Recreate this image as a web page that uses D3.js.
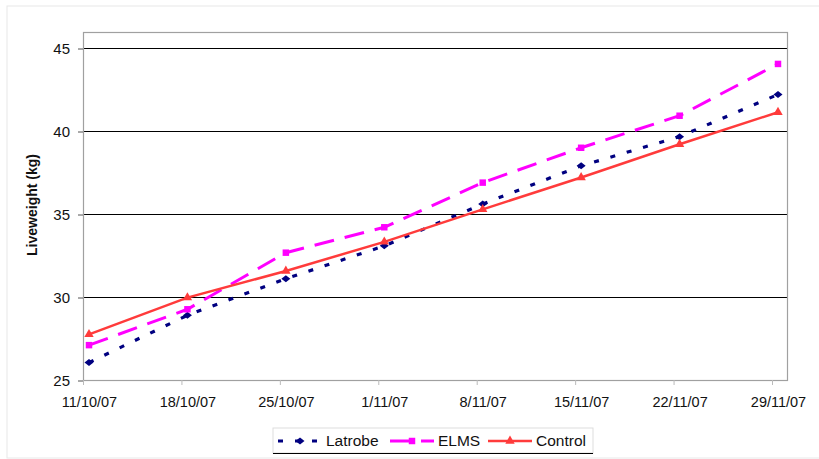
<!DOCTYPE html>
<html>
<head>
<meta charset="utf-8">
<script src="https://cdn.jsdelivr.net/npm/d3@7"></script>
<style>
  body { margin: 0; background: #fff; }
  text { font-family: "Liberation Sans", Arial, sans-serif; fill: #111; }
</style>
</head>
<body>
<div id="chart"></div>
<script>
// data
var dates = ["11/10/07", "18/10/07", "25/10/07", "1/11/07", "8/11/07", "15/11/07", "22/11/07", "29/11/07"];
var latrobe = [26.05, 28.9, 31.1, 33.08, 35.6, 37.9, 39.66, 42.2];
var elms = [27.1, 29.26, 32.67, 34.2, 36.89, 38.99, 40.92, 44.04];
var control = [27.75, 29.96, 31.57, 33.32, 35.28, 37.2, 39.2, 41.13];
var yTicks = [25, 30, 35, 40, 45];

var series = [
  {name: "Latrobe", values: latrobe, color: "#000080", dash: "5,12", width: 3.2, marker: "diamond"},
  {name: "ELMS", values: elms, color: "#ff00ff", dash: "20,11", width: 3, marker: "square"},
  {name: "Control", values: control, color: "#ff3b3b", dash: null, width: 2.5, marker: "triangle"}
];

var W = 819, H = 459;
var plot = {left: 83, right: 787, top: 32, bottom: 380};

var svg = d3.select("#chart").append("svg")
    .attr("width", W)
    .attr("height", H);

// faint outer frame
svg.append("rect")
    .attr("x", 7).attr("y", 6)
    .attr("width", W - 6).attr("height", H - 7)
    .attr("fill", "none")
    .attr("stroke", "#e8e8e8");

// scales
var x = d3.scalePoint().domain(dates).range([89, 778]);
var y = d3.scaleLinear().domain([25, 45]).range([380, 48]);
var tickShift = -6; // tick marks sit a little left of the points

// gridlines
svg.append("g")
  .selectAll("line")
  .data(yTicks.slice(1))
  .join("line")
    .attr("x1", plot.left).attr("x2", plot.right)
    .attr("y1", function(d) { return Math.round(y(d)) + 0.5; })
    .attr("y2", function(d) { return Math.round(y(d)) + 0.5; })
    .attr("stroke", "#000")
    .attr("stroke-width", 1.2);

// plot frame
svg.append("rect")
    .attr("x", plot.left + 0.5).attr("y", plot.top + 0.5)
    .attr("width", plot.right - plot.left)
    .attr("height", plot.bottom - plot.top)
    .attr("fill", "none")
    .attr("stroke", "#a0a0a0")
    .attr("stroke-width", 1.2);

// y axis
var yAxis = svg.append("g")
    .attr("transform", "translate(" + plot.left + ",0.5)")
    .call(d3.axisLeft(y).tickValues(yTicks).tickSize(5).tickPadding(8));
yAxis.select(".domain").remove();
yAxis.selectAll(".tick line").attr("stroke", "#555");
yAxis.selectAll("text").style("font-size", "15px").attr("fill", "#111");

// x axis: labels at points, ticks shifted
var xAxis = svg.append("g")
    .attr("transform", "translate(0," + plot.bottom + ")")
    .call(d3.axisBottom(x).tickSize(0).tickPadding(17));
xAxis.select(".domain").remove();
xAxis.selectAll("text").style("font-size", "14.5px").attr("fill", "#111");
xAxis.selectAll(".tick").append("line")
    .attr("x1", tickShift).attr("x2", tickShift)
    .attr("y1", 0).attr("y2", 5)
    .attr("stroke", "#bbb");

// y title
svg.append("text")
    .attr("transform", "translate(37,205) rotate(-90)")
    .attr("text-anchor", "middle")
    .style("font-size", "14px")
    .style("font-weight", "bold")
    .text("Liveweight (kg)");

// lines
var line = d3.line()
    .x(function(d, i) { return x(dates[i]); })
    .y(function(d) { return y(d); });

function drawMarker(g, type, color) {
  if (type === "diamond") {
    g.append("path").attr("d", "M-4.5,0L0,-3.5L4.5,0L0,3.5Z").attr("fill", color);
  } else if (type === "square") {
    g.append("path").attr("d", d3.symbol().type(d3.symbolSquare).size(42)()).attr("fill", color);
  } else {
    g.append("path").attr("d", d3.symbol().type(d3.symbolTriangle).size(38)()).attr("fill", color);
  }
}

series.forEach(function(s) {
  svg.append("path")
      .attr("d", line(s.values))
      .attr("fill", "none")
      .attr("stroke", s.color)
      .attr("stroke-width", s.width)
      .attr("stroke-dasharray", s.dash);
  svg.append("g")
    .selectAll("g")
    .data(s.values)
    .join("g")
      .attr("transform", function(d, i) { return "translate(" + x(dates[i]) + "," + y(d) + ")"; })
      .each(function() { drawMarker(d3.select(this), s.marker, s.color); });
});

// legend
var legend = svg.append("g").attr("transform", "translate(273,428)");
legend.append("rect")
    .attr("width", 320).attr("height", 25)
    .attr("fill", "#fff")
    .attr("stroke", "#ddd");
legend.append("line")
    .attr("x1", 0).attr("x2", 320)
    .attr("y1", 25.5).attr("y2", 25.5)
    .attr("stroke", "#000");

var legendX = [5, 117, 215];
series.forEach(function(s, i) {
  var g = legend.append("g").attr("transform", "translate(" + legendX[i] + ",13)");
  g.append("line")
      .attr("x1", 0).attr("x2", 44)
      .attr("stroke", s.color)
      .attr("stroke-width", s.width)
      .attr("stroke-dasharray", s.dash);
  drawMarker(g.append("g").attr("transform", "translate(22,0)"), s.marker, s.color);
  g.append("text")
      .attr("x", 48)
      .attr("dy", "0.35em")
      .style("font-size", "15.5px")
      .text(s.name);
});
</script>
</body>
</html>
